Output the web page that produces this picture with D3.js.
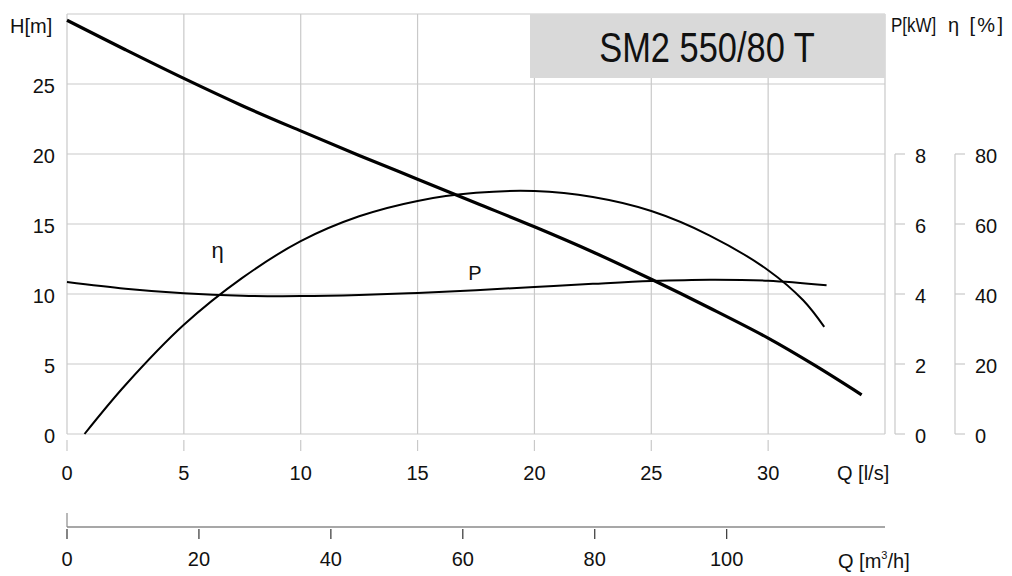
<!DOCTYPE html>
<html>
<head>
<meta charset="utf-8">
<script src="https://cdn.jsdelivr.net/npm/d3@7"></script>
<style>
  body { margin: 0; background: #fff; }
  text { font-family: 'Liberation Sans', Arial, sans-serif; fill: #111; }
</style>
</head>
<body>
<div id="chart"></div>
<script>
// ---- data ----
var title = 'SM2 550/80 T'

var qTicks = [0, 5, 10, 15, 20, 25, 30]
var hTicks = [0, 5, 10, 15, 20, 25]
var pTicks = [0, 2, 4, 6, 8]
var etaTicks = [0, 20, 40, 60, 80]
var m3hTicks = [0, 20, 40, 60, 80, 100]

// head curve H [m] vs Q [l/s]
var headQ = [0, 2.5, 5, 7.5, 10, 12.5, 15, 17.5, 20, 22.5, 25, 27.5, 30, 32, 34]
var headH = [29.55, 27.45, 25.4, 23.45, 21.65, 19.9, 18.2, 16.5, 14.8, 13.0, 11.05, 9.0, 6.85, 4.9, 2.8]

// efficiency curve eta [%]
var etaQ = [0.75, 2.5, 5, 7.5, 10, 12.5, 15, 17.5, 20, 22.5, 25, 27.5, 30, 31.5, 32.4]
var etaVal = [0, 14.0, 31.2, 44.6, 55.1, 62.2, 66.6, 68.9, 69.4, 67.7, 63.7, 56.7, 46.8, 38.2, 30.6]

// power curve P [kW]
var powerQ = [0, 2.5, 5, 7.5, 10, 12.5, 15, 17.5, 20, 22.5, 25, 27.5, 30, 32.5]
var powerP = [4.34, 4.15, 4.02, 3.95, 3.94, 3.97, 4.03, 4.11, 4.2, 4.29, 4.37, 4.41, 4.38, 4.25]

// ---- layout ----
var width = 1012
var height = 576
var plot = { left: 67, right: 885, top: 14, bottom: 434 }
var gridColor = '#c9c9c9'

var svg = d3
  .select('#chart')
  .append('svg')
  .attr('width', width)
  .attr('height', height)

var xScale = d3.scaleLinear().domain([0, 35]).range([plot.left, plot.right])
var m3hScale = d3.scaleLinear().domain([0, 124]).range([plot.left, plot.right])
var hScale = d3.scaleLinear().domain([0, 30]).range([plot.bottom, plot.top])
var pScale = d3.scaleLinear().domain([0, 8]).range([plot.bottom, hScale(20)])
var etaScale = d3.scaleLinear().domain([0, 80]).range([plot.bottom, hScale(20)])

// grid
var grid = svg.append('g').attr('stroke', gridColor).attr('stroke-width', 1.2)

grid
  .selectAll('.vgrid')
  .data(qTicks.concat([35]))
  .enter()
  .append('line')
  .attr('x1', d => xScale(d))
  .attr('x2', d => xScale(d))
  .attr('y1', plot.top)
  .attr('y2', plot.bottom)

grid
  .selectAll('.hgrid')
  .data(hTicks.concat([30]))
  .enter()
  .append('line')
  .attr('x1', plot.left)
  .attr('x2', plot.right)
  .attr('y1', d => hScale(d))
  .attr('y2', d => hScale(d))

// title box
svg
  .append('rect')
  .attr('x', 530)
  .attr('y', plot.top)
  .attr('width', plot.right - 530)
  .attr('height', 64)
  .attr('fill', '#d9d9d9')

svg
  .append('text')
  .attr('transform', 'translate(707,62) scale(0.82,1)')
  .attr('text-anchor', 'middle')
  .attr('font-size', 42)
  .text(title)

// left axis labels
svg
  .selectAll('.h-label')
  .data(hTicks)
  .enter()
  .append('text')
  .attr('x', 55)
  .attr('y', d => hScale(d) + 9)
  .attr('text-anchor', 'end')
  .attr('font-size', 20)
  .text(d => d)

svg
  .append('text')
  .attr('x', 10)
  .attr('y', 33)
  .attr('font-size', 20)
  .text('H[m]')

// bottom Q [l/s] axis
svg
  .selectAll('.q-tick')
  .data(qTicks)
  .enter()
  .append('line')
  .attr('x1', d => xScale(d))
  .attr('x2', d => xScale(d))
  .attr('y1', 440)
  .attr('y2', 451)
  .attr('stroke', gridColor)
  .attr('stroke-width', 1.2)

svg
  .selectAll('.q-label')
  .data(qTicks)
  .enter()
  .append('text')
  .attr('x', d => xScale(d))
  .attr('y', 480)
  .attr('text-anchor', 'middle')
  .attr('font-size', 20)
  .text(d => d)

svg
  .append('text')
  .attr('x', 837)
  .attr('y', 480)
  .attr('font-size', 20)
  .text('Q [l/s]')

// second axis Q [m3/h]
var m3Axis = svg.append('g')

m3Axis
  .append('line')
  .attr('x1', plot.left)
  .attr('x2', plot.right)
  .attr('y1', 527)
  .attr('y2', 527)
  .attr('stroke', '#8a8a8a')
  .attr('stroke-width', 1.6)

m3Axis
  .append('line')
  .attr('x1', plot.left)
  .attr('x2', plot.left)
  .attr('y1', 513)
  .attr('y2', 527)
  .attr('stroke', '#8a8a8a')
  .attr('stroke-width', 1.2)

m3Axis
  .selectAll('.m3-tick')
  .data(m3hTicks)
  .enter()
  .append('line')
  .attr('x1', d => m3hScale(d))
  .attr('x2', d => m3hScale(d))
  .attr('y1', 529)
  .attr('y2', 539)
  .attr('stroke', '#333')
  .attr('stroke-width', 1.2)

m3Axis
  .selectAll('.m3-label')
  .data(m3hTicks)
  .enter()
  .append('text')
  .attr('x', d => m3hScale(d))
  .attr('y', 566)
  .attr('text-anchor', 'middle')
  .attr('font-size', 20)
  .text(d => d)

var m3Title = m3Axis
  .append('text')
  .attr('x', 838)
  .attr('y', 568)
  .attr('font-size', 20)
m3Title.append('tspan').text('Q [m')
m3Title.append('tspan').attr('font-size', 11).attr('dy', -9).text('3')
m3Title.append('tspan').attr('dy', 9).text('/h]')

// right axes: P and eta
function rightAxis(x, scale, ticks) {
  var g = svg.append('g')
  g.append('line')
    .attr('x1', x)
    .attr('x2', x)
    .attr('y1', scale(ticks[ticks.length - 1]))
    .attr('y2', scale(0))
    .attr('stroke', gridColor)
    .attr('stroke-width', 1.2)
  g.selectAll('.tick')
    .data(ticks)
    .enter()
    .append('line')
    .attr('x1', x)
    .attr('x2', x + 10)
    .attr('y1', d => scale(d))
    .attr('y2', d => scale(d))
    .attr('stroke', gridColor)
    .attr('stroke-width', 1.2)
  g.selectAll('.lbl')
    .data(ticks)
    .enter()
    .append('text')
    .attr('x', x + 20)
    .attr('y', d => scale(d) + 9)
    .attr('font-size', 20)
    .text(d => d)
}

rightAxis(895, pScale, pTicks)
rightAxis(955, etaScale, etaTicks)

svg
  .append('text')
  .attr('transform', 'translate(891,32) scale(0.85,1)')
  .attr('font-size', 20)
  .text('P[kW]')

svg
  .append('text')
  .attr('x', 948)
  .attr('y', 32)
  .attr('font-size', 20)
  .attr('textLength', 55)
  .attr('lengthAdjust', 'spacing')
  .text('η [%]')

// curves
var curveLine = d3.line().curve(d3.curveCatmullRom.alpha(0.5))

var headPts = headQ.map((q, i) => [xScale(q), hScale(headH[i])])
var etaPts = etaQ.map((q, i) => [xScale(q), etaScale(etaVal[i])])
var powerPts = powerQ.map((q, i) => [xScale(q), pScale(powerP[i])])

svg
  .append('path')
  .attr('d', curveLine(powerPts))
  .attr('fill', 'none')
  .attr('stroke', '#000')
  .attr('stroke-width', 2)

svg
  .append('path')
  .attr('d', curveLine(etaPts))
  .attr('fill', 'none')
  .attr('stroke', '#000')
  .attr('stroke-width', 2)

svg
  .append('path')
  .attr('d', curveLine(headPts))
  .attr('fill', 'none')
  .attr('stroke', '#000')
  .attr('stroke-width', 3.2)

// curve labels
svg
  .append('text')
  .attr('x', xScale(6.45))
  .attr('y', hScale(12.6))
  .attr('text-anchor', 'middle')
  .attr('font-family', 'DejaVu Serif, serif')
  .attr('font-size', 22)
  .text('η')

svg
  .append('text')
  .attr('x', xScale(17.45))
  .attr('y', hScale(11))
  .attr('text-anchor', 'middle')
  .attr('font-size', 20)
  .text('P')
</script>
</body>
</html>
